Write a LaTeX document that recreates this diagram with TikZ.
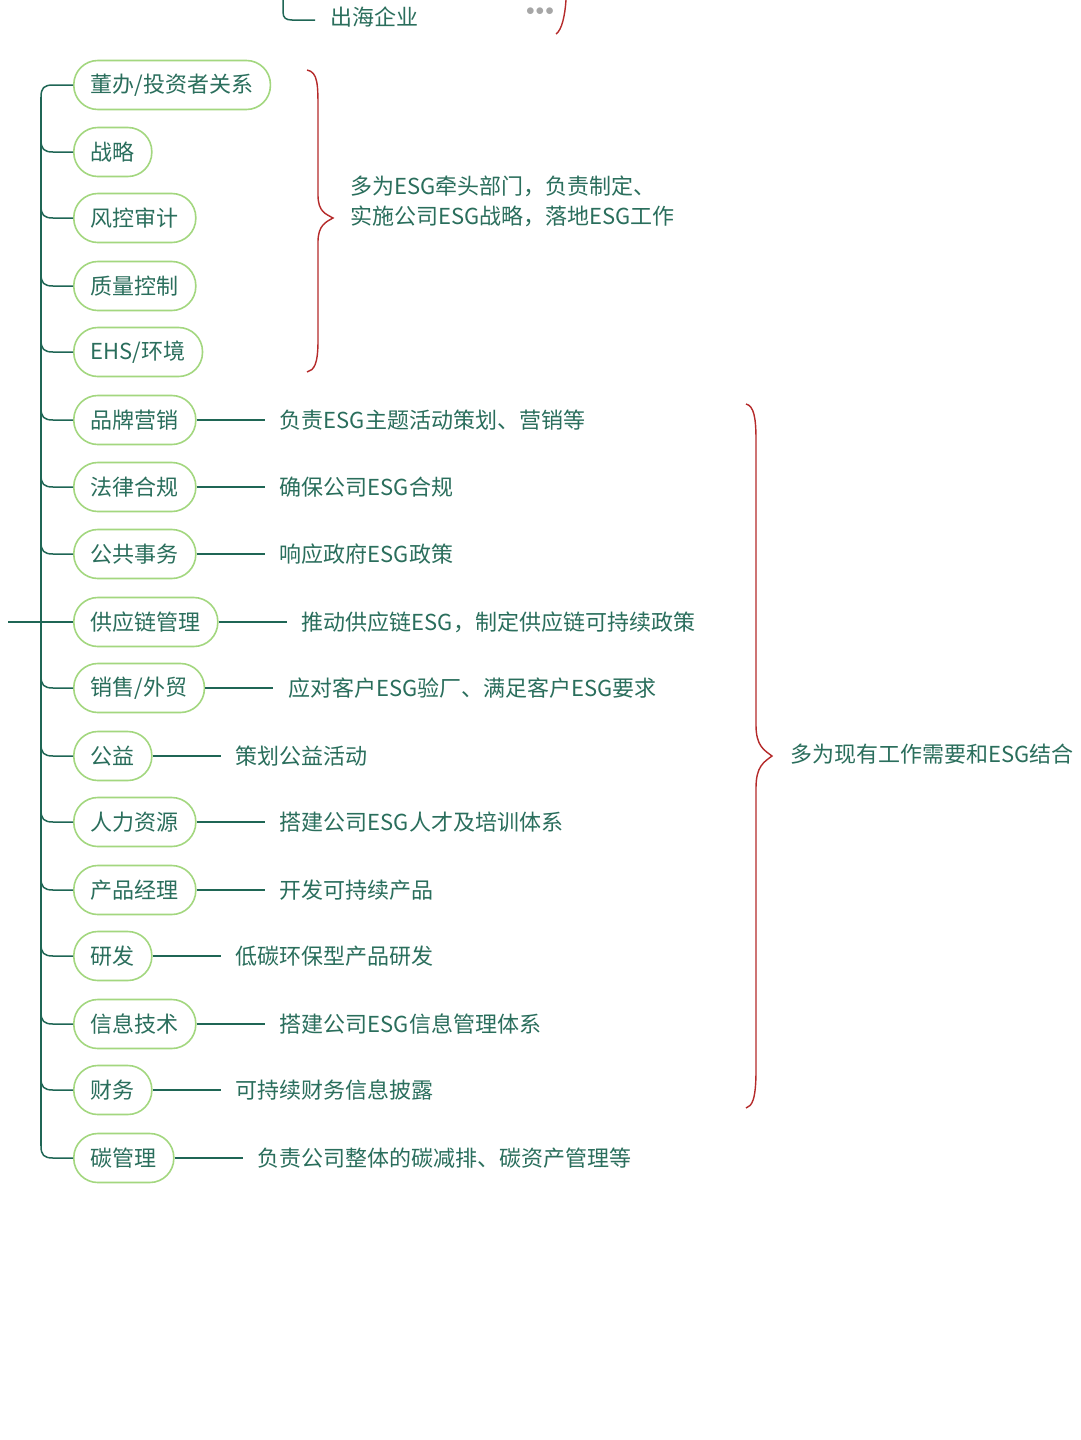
\documentclass[tikz,border=0pt]{standalone}
\usepackage{fontspec}
\usetikzlibrary{calc}
\newfontfamily\cjk{Noto Sans CJK SC}
\begin{document}
\begin{tikzpicture}[x=1pt,y=-1pt,
  tc/.style={text=txt,font=\cjk\fontsize{22}{30}\selectfont},
  nd/.style={tc,draw=bd,line width=1.6pt,rounded corners=24pt,minimum height=49pt,anchor=west,inner xsep=17pt,inner ysep=0pt},
  lb/.style={tc,anchor=west,inner sep=0pt},
  ln/.style={draw=ln,line width=1.5pt},
  br/.style={draw=brc,line width=1.4pt}]
\definecolor{txt}{HTML}{2A6E5C}
\definecolor{bd}{HTML}{A3D77F}
\definecolor{ln}{HTML}{1F6655}
\definecolor{brc}{HTML}{B52A2A}
\useasboundingbox (0,0) rectangle (1080,1440);
\fill[white] (0,0) rectangle (1080,1440);
% top fragment
\coordinate (t0) at (283,0);
\node[lb] (top) at (330,17) {出海企业};
\draw[ln] (t0) -- (283,12) .. controls (283,18) and (286,20) .. (292,20) -- (315,20);
\node[text=gray!70,font=\fontsize{16}{16}\selectfont,anchor=center] (dots) at (540,12) {$\bullet\!\bullet\!\bullet$};
\draw[br] (556,34) .. controls (562,30) and (565,15) .. (566,0);
% trunk
\coordinate (l0) at (8,622);
\draw[ln] (41,97) -- (41,1146);
\draw[ln] (l0) -- (73,622);
\foreach \n/\y/\t in {
 a/85/{董办/投资者关系},
 b/152/战略,
 c/218/风控审计,
 d/286/质量控制,
 e/352/{EHS/环境},
 f/420/品牌营销,
 g/487/法律合规,
 h/554/公共事务,
 i/622/供应链管理,
 j/688/{销售/外贸},
 k/756/公益,
 l/822/人力资源,
 m/890/产品经理,
 n/956/研发,
 o/1024/信息技术,
 p/1090/财务,
 q/1158/碳管理}{
  \node[nd] (\n) at (73,\y) {\t};
}
\draw[ln] (a.west) -- (53,85) .. controls (44,85) and (41,88) .. (41,97);
\foreach \n in {b,c,d,e,f,g,h,j,k,l,m,n,o,p,q}{
  \draw[ln] (\n.west) -- ($(\n.west)+(-20,0)$) .. controls ($(\n.west)+(-29,0)$) and ($(\n.west)+(-32,-3)$) .. ($(\n.west)+(-32,-12)$);
}
% descriptions
\foreach \n/\d in {f/负责ESG主题活动策划、营销等,g/确保公司ESG合规,h/响应政府ESG政策,i/推动供应链ESG，制定供应链可持续政策,j/应对客户ESG验厂、满足客户ESG要求,k/策划公益活动,l/搭建公司ESG人才及培训体系,m/开发可持续产品,n/低碳环保型产品研发,o/搭建公司ESG信息管理体系,p/可持续财务信息披露,q/负责公司整体的碳减排、碳资产管理等}{
  \coordinate (\n e) at ($(\n.east)+(68,0)$);
  \draw[ln] (\n.east) -- (\n e);
  \node[lb] (\n d) at ($(\n e)+(15,0)$) {\d};
}
% braces
\draw[br] (307,70) .. controls (318,72) and (318,85) .. (318,110) -- (318,195) .. controls (318,212) and (326,214) .. (333,218) .. controls (326,222) and (318,225) .. (318,242) -- (318,340) .. controls (318,365) and (314,370) .. (307,372);
\node[lb,align=left] (b1) at (350,201) {多为ESG牵头部门，负责制定、\\实施公司ESG战略，落地ESG工作};
\draw[br] (746,404) .. controls (754,406) and (756,418) .. (756,440) -- (756,725) .. controls (756,746) and (764,750) .. (772,756) .. controls (764,762) and (756,766) .. (756,788) -- (756,1070) .. controls (756,1100) and (752,1106) .. (746,1108);
\node[lb] (b2) at (790,754) {多为现有工作需要和ESG结合};
\end{tikzpicture}
\end{document}
